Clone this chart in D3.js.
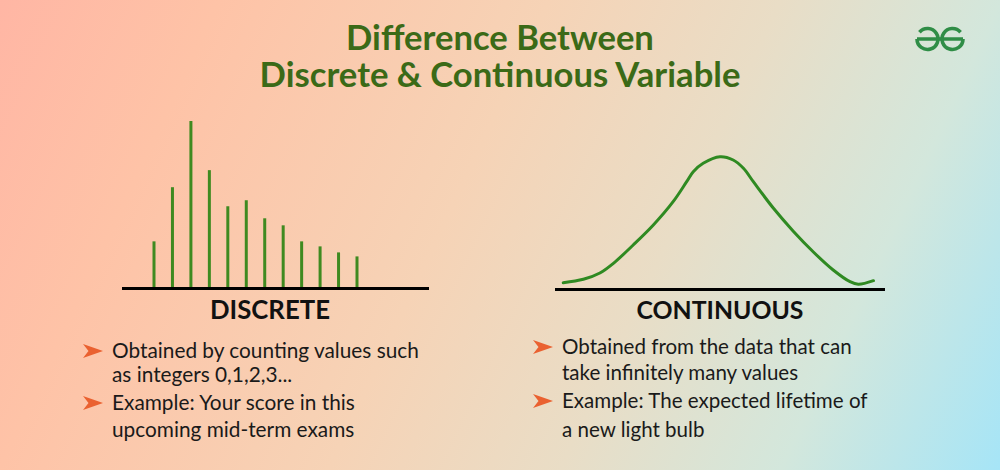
<!DOCTYPE html>
<html>
<head>
<meta charset="utf-8">
<script src="https://cdn.jsdelivr.net/npm/d3@7/dist/d3.min.js"></script>
<style>
  html,body{margin:0;padding:0;}
  body{width:1000px;height:470px;overflow:hidden;}
  text{font-family:"Lato","Noto Sans",sans-serif;}
</style>
</head>
<body>
<svg id="chart" width="1000" height="470"></svg>
<script>
// ---- data ----
const titleLines = ["Difference Between", "Discrete & Continuous Variable"];
const discreteIndex = [0,1,2,3,4,5,6,7,8,9,10,11];
const discreteValues = [47,101,167,118,82,88,70,63,47,42,36,32];
const curveX = [2.5,8.6,13.6,17.7,23.7,29.8,35.8,39.9,41.9,44.9,50,54.0,57.1,60.1,66.2,72.2,78.3,84.3,89.4,91.9,96.5];
const curveY = [6.3,9.7,16,25.7,44,64,87.3,107.3,117.3,125.7,132.3,129,120.7,107.3,80.7,57.8,37,19,7.3,4.7,8.3];
const headings = ["DISCRETE", "CONTINUOUS"];
const discreteText = [["Obtained by counting values such","as integers 0,1,2,3..."],["Example: Your score in this","upcoming mid-term exams"]];
const continuousText = [["Obtained from the data that can","take infinitely many values"],["Example: The expected lifetime of","a new light bulb"]];

const svg = d3.select("#chart");
const defs = svg.append("defs");
const grad = defs.append("linearGradient").attr("id","bg")
  .attr("gradientUnits","userSpaceOnUse").attr("x1",0).attr("y1",0).attr("x2",1000).attr("y2",470);
[[0,"#ffb6a4"],[0.18,"#fec3a7"],[0.45,"#f6d3b6"],[0.64,"#e9ddc6"],[0.82,"#d3e7dc"],[1,"#a6e5f7"]]
  .forEach(s=>grad.append("stop").attr("offset",s[0]).attr("stop-color",s[1]));
svg.append("rect").attr("width",1000).attr("height",470).attr("fill","url(#bg)");

function fitSize(sel, w){
  const len = sel.node().getComputedTextLength();
  const fs = parseFloat(sel.attr("font-size"));
  return fs * w / len;
}

// title
const titleBase = [50, 87], titleW = [308, 481];
titleLines.forEach((t,i)=>{
  const s = svg.append("text").attr("x",500).attr("y",titleBase[i]).attr("text-anchor","middle")
    .attr("font-size",29).attr("font-weight",700).attr("fill","#3b6a17").text(t);
  s.attr("font-size", fitSize(s, titleW[i]));
});

// logo
const logo = svg.append("g").attr("fill","none").attr("stroke","#2f8d46").attr("stroke-width",3.6);
const r = 10.5, cy = 39, cxR = 952.5, cxL = 927.5;
const a = -40*Math.PI/180;
logo.append("path").attr("d",
  `M${cxR + r*Math.cos(a)},${cy + r*Math.sin(a)} A${r},${r} 0 1 0 ${cxR + r},${cy}`);
logo.append("path").attr("d",
  `M${cxL - r*Math.cos(a)},${cy + r*Math.sin(a)} A${r},${r} 0 1 1 ${cxL - r},${cy}`);
logo.append("line").attr("x1",cxL - r).attr("x2",cxR + r).attr("y1",cy).attr("y2",cy);

// discrete chart
const xD = d3.scaleLinear().domain([0,11]).range([154,357]);
const yD = d3.scaleLinear().domain([0,167]).range([288.5,121]);
svg.append("g").selectAll("line").data(discreteIndex).join("line")
  .attr("x1",d=>xD(d)).attr("x2",d=>xD(d))
  .attr("y1",yD(0)).attr("y2",d=>yD(discreteValues[d]))
  .attr("stroke","#3f8a20").attr("stroke-width",3);
svg.append("line").attr("x1",122).attr("x2",429).attr("y1",288.5).attr("y2",288.5)
  .attr("stroke","#000").attr("stroke-width",3.2);

// continuous chart
const xC = d3.scaleLinear().domain([0,100]).range([555,885]);
const yC = d3.scaleLinear().domain([0,133]).range([289,156]);
const pts = curveX.map((x,i)=>[x,curveY[i]]);
svg.append("path").datum(pts)
  .attr("d", d3.line().x(d=>xC(d[0])).y(d=>yC(d[1])).curve(d3.curveCatmullRom.alpha(0.5)))
  .attr("fill","none").attr("stroke","#2f8a22").attr("stroke-width",3).attr("stroke-linecap","round");
svg.append("line").attr("x1",555).attr("x2",885).attr("y1",289.5).attr("y2",289.5)
  .attr("stroke","#000").attr("stroke-width",3.2);

// headings
const headX = [270, 720], headW = [120, 167];
headings.forEach((h,i)=>{
  const s = svg.append("text").attr("x",headX[i]).attr("y",318.5).attr("text-anchor","middle")
    .attr("font-size",23).attr("font-weight",700).attr("fill","#111").text(h);
  s.attr("font-size", fitSize(s, headW[i]));
});

// bullets
function bullets(items, arrowX, textX, baselines, fitW){
  const g = svg.append("g");
  let fs = 19;
  items.forEach((lines,bi)=>{
    const b0 = baselines[bi*2];
    g.append("path")
      .attr("d",`M${arrowX},${b0-14} L${arrowX+20},${b0-7} L${arrowX},${b0} L${arrowX+5.5},${b0-7} Z`)
      .attr("fill","#ea6130");
    lines.forEach((ln,li)=>{
      const s = g.append("text").attr("class","body").attr("x",textX).attr("y",baselines[bi*2+li])
        .attr("font-size",19).attr("fill","#1a1a1a").text(ln);
      if(bi===0 && li===0) fs = fitSize(s, fitW);
    });
  });
  g.selectAll("text.body").attr("font-size", fs);
}
bullets(discreteText, 83, 112, [358, 382, 410, 437], 307);
bullets(continuousText, 533, 562, [354, 380, 408, 437], 290);
</script>
</body>
</html>
